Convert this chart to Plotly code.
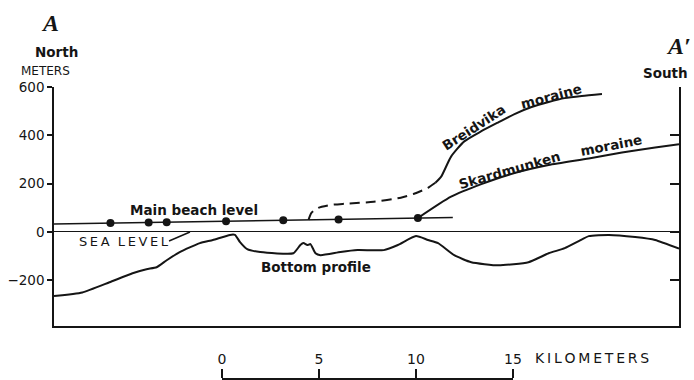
import plotly.graph_objects as go

# ---------------- data (km along profile, metres elevation) ----------------
x_range = [-8.66, 23.56]
y_range = [-389, 600]
y_ticks = [-200, 0, 200, 400, 600]
scale_ticks = [0, 5, 10, 15]
scale_labels = ["0", "5", "10", "15"]

beach_line_x = [-8.66, 11.9]
beach_line_y = [33, 60]
beach_pts_x = [-5.75, -3.78, -2.85, 0.21, 3.16, 6.01, 10.1]
beach_pts_y = [37, 39.5, 40.7, 44.7, 48.5, 52.2, 57.6]

profile_x = [-8.66, -7.20, -5.80, -4.61, -3.89, -3.37, -2.85, -2.18, -1.14, -0.47,
             0.41, 0.67, 0.93, 1.30, 1.97, 3.68, 4.04, 4.20, 4.40, 4.56, 4.82,
             5.08, 6.11, 6.99, 8.34, 9.07, 10.0, 10.62, 11.14, 11.97, 12.85,
             14.25, 15.80, 16.84, 17.67, 18.39, 18.91, 19.95, 21.30, 22.33, 23.56]
profile_y = [-265, -250, -208, -171, -154, -146, -117, -83, -46, -33,
             -12, -12, -42, -71, -83, -88, -54, -46, -54, -50, -88,
             -96, -83, -75, -75, -54, -17, -33, -46, -96, -125,
             -138, -125, -88, -67, -38, -17, -12, -21, -33, -69]

breid_dash_x = [4.46, 4.61, 4.97, 5.60, 6.34, 7.82, 9.22, 9.90, 10.62, 11.0]
breid_dash_y = [50, 79, 100, 112, 117, 125, 142, 158, 183, 204]
breid_x = [11.0, 11.30, 11.81, 12.49, 13.37, 14.25, 15.08, 15.96, 16.84, 17.67, 18.55, 19.59]
breid_y = [204, 229, 312, 375, 417, 454, 488, 517, 538, 554, 563, 571]

skard_x = [10.1, 11.81, 13.37, 15.08, 16.84, 18.91, 20.62, 22.33, 23.56]
skard_y = [57.6, 146, 198, 244, 277, 304, 329, 350, 363]

sea_leader_x = [-2.73, -1.65]
sea_leader_y = [-37, 0]

label_text = ["Main beach level", "Bottom profile", "Breidvika", "moraine",
              "Skardmunken", "moraine"]
label_x = [-1.44, 4.85, 13.0, 17.0, 14.82, 20.1]
label_y = [91, -145, 433, 562, 258, 358]
label_angle = [0, 0, -33, -15, -16, -11]

# ---------------- layout geometry ----------------
W, H = 694, 380
M_L, M_R, M_T, M_B = 54, 15, 87, 1
PW, PH = W - M_L - M_R, H - M_T - M_B
FONT = "DejaVu Sans"
INK = "#151515"


def px(xp):
    return (xp - M_L) / PW


def py(yp):
    return (H - M_B - yp) / PH


y_dom0 = py(326)
sb0 = (scale_ticks[0] - x_range[0]) / (x_range[1] - x_range[0])
sb1 = (scale_ticks[-1] - x_range[0]) / (x_range[1] - x_range[0])

fig = go.Figure()

fig.add_trace(go.Scatter(x=profile_x, y=profile_y, mode="lines",
                         line=dict(color=INK, width=2, shape="spline", smoothing=0.5),
                         hoverinfo="skip"))
fig.add_trace(go.Scatter(x=beach_line_x, y=beach_line_y, mode="lines",
                         line=dict(color=INK, width=1.6), hoverinfo="skip"))
fig.add_trace(go.Scatter(x=beach_pts_x, y=beach_pts_y, mode="markers",
                         marker=dict(color=INK, size=8), hoverinfo="skip"))
fig.add_trace(go.Scatter(x=breid_dash_x, y=breid_dash_y, mode="lines",
                         line=dict(color=INK, width=2, dash="10px,6px", shape="spline",
                                   smoothing=0.6), hoverinfo="skip"))
fig.add_trace(go.Scatter(x=breid_x, y=breid_y, mode="lines",
                         line=dict(color=INK, width=2, shape="spline", smoothing=0.6),
                         hoverinfo="skip"))
fig.add_trace(go.Scatter(x=skard_x, y=skard_y, mode="lines",
                         line=dict(color=INK, width=2, shape="spline", smoothing=0.6),
                         hoverinfo="skip"))
fig.add_trace(go.Scatter(x=sea_leader_x, y=sea_leader_y, mode="lines",
                         line=dict(color=INK, width=1.5), hoverinfo="skip"))
# helper traces so the right axis and scale bar axis are drawn
fig.add_trace(go.Scatter(x=[0], y=[None], yaxis="y2", mode="lines", hoverinfo="skip"))
fig.add_trace(go.Scatter(x=[None], y=[0], xaxis="x2", mode="lines", hoverinfo="skip"))

ann = []
for t, x, y, a in zip(label_text, label_x, label_y, label_angle):
    ann.append(dict(text=t, x=x, y=y, xref="x", yref="y", showarrow=False,
                    textangle=a, xanchor="center", yanchor="middle",
                    font=dict(family=FONT, size=13.5, color=INK, weight="bold")))
TS = "\u2009"
ann.append(dict(text=TS.join("SEA") + "  " + TS.join("LEVEL"), x=-5.05, y=-41,
                xref="x", yref="y", showarrow=False, xanchor="center", yanchor="middle",
                font=dict(family=FONT, size=13, color=INK)))
ann.append(dict(text=TS.join("KILOMETERS"), x=15, y=py(358), xref="x2", yref="paper",
                xanchor="left", yanchor="middle", xshift=20, showarrow=False,
                font=dict(family=FONT, size=14, color=INK)))


def corner(text, xp, yp, family, size, bold=False):
    f = dict(family=family, size=size, color=INK)
    if bold:
        f["weight"] = "bold"
    return dict(text=text, x=px(xp), y=py(yp), xref="paper", yref="paper",
                xanchor="center", yanchor="middle", showarrow=False, font=f)


ann.append(corner("<b><i>A</i></b>", 50, 23, "Liberation Serif", 24))
ann.append(corner("<b><i>A\u2032</i></b>", 678, 46, "Liberation Serif", 24))
ann.append(corner("North", 56, 52, FONT, 13.5, bold=True))
ann.append(corner("South", 665, 73, FONT, 13.5, bold=True))
ann.append(corner("METERS", 45, 71, FONT, 12))

fig.update_layout(
    width=W, height=H,
    margin=dict(l=M_L, r=M_R, t=M_T, b=M_B, autoexpand=False),
    paper_bgcolor="white", plot_bgcolor="rgba(0,0,0,0)",
    showlegend=False,
    font=dict(family=FONT, size=14, color=INK),
    xaxis=dict(range=x_range, showgrid=False, zeroline=False, showticklabels=False,
               ticks="", showline=True, linecolor=INK, linewidth=1.5, anchor="y",
               fixedrange=True),
    yaxis=dict(range=y_range, domain=[y_dom0, 1], showgrid=False, zeroline=True,
               zerolinecolor=INK, zerolinewidth=1.3, tickvals=y_ticks, ticks="outside",
               ticklen=5, tickwidth=1.5, tickcolor=INK, showline=True, linecolor=INK,
               linewidth=1.5, anchor="x",
               tickfont=dict(family=FONT, size=13.5, color=INK),
               automargin=False),
    yaxis2=dict(range=y_range, overlaying="y", side="right", anchor="x", showgrid=False,
                zeroline=False, tickvals=y_ticks, ticks="inside", ticklen=9,
                tickwidth=1.5, tickcolor=INK, showticklabels=False, showline=True,
                linecolor=INK, linewidth=1.5),
    xaxis2=dict(range=[scale_ticks[0], scale_ticks[-1]], domain=[sb0, sb1],
                anchor="free", position=0, side="top", showgrid=False, zeroline=False,
                tickvals=scale_ticks, ticktext=scale_labels, ticks="outside", ticklen=9,
                tickwidth=1.5, tickcolor=INK, showline=True, linecolor=INK,
                linewidth=1.5, tickfont=dict(family=FONT, size=14, color=INK),
                automargin=False),
    annotations=ann,
)

fig.write_html("out.html", config={"displayModeBar": False},
               post_script="document.body.style.margin='0';")
